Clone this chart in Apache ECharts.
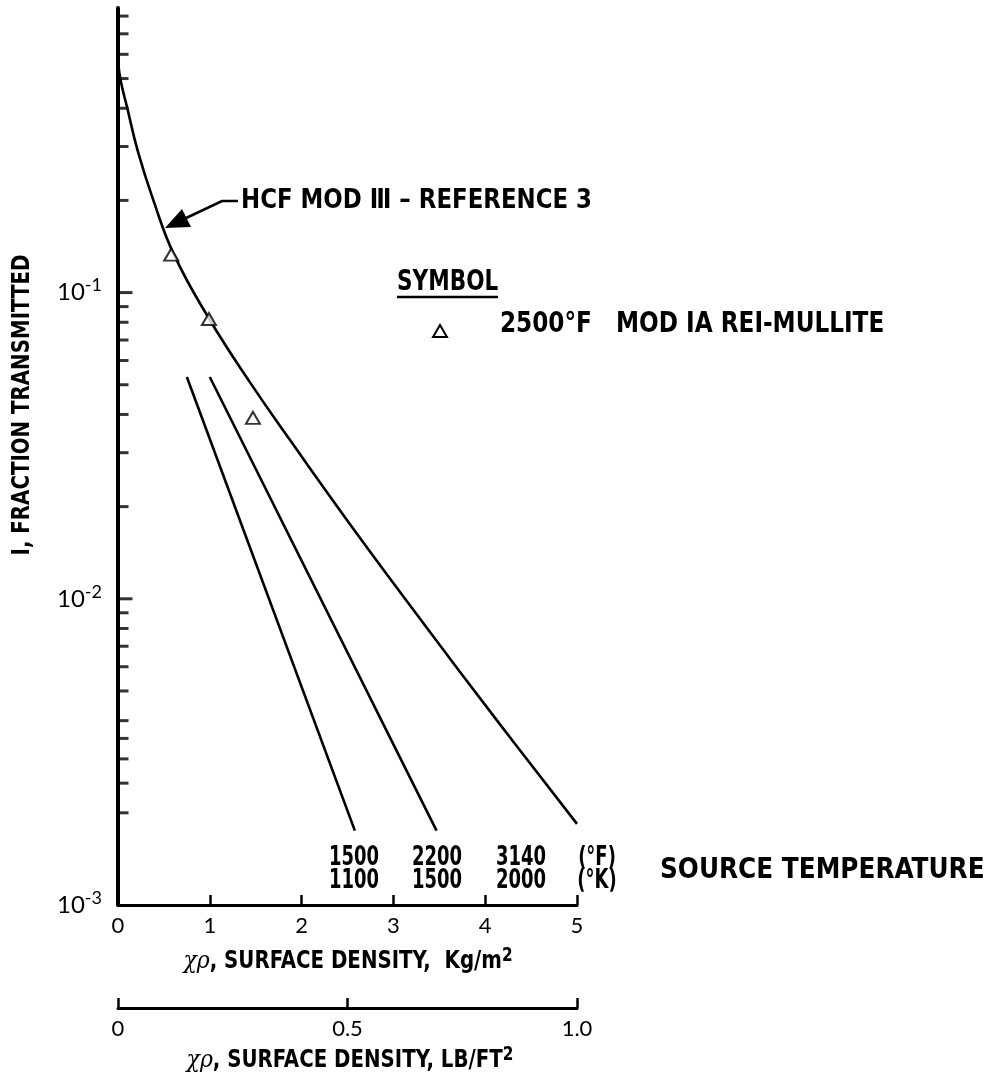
<!DOCTYPE html>
<html><head><meta charset="utf-8">
<script src="https://cdn.jsdelivr.net/npm/echarts@6/dist/echarts.min.js"></script>
<style>html,body{margin:0;padding:0;background:#fff}#c{width:996px;height:1084px}</style>
</head><body><div id="c"></div>
<script>
// ---- data ----
var hcfX = [0, 0.033, 0.098, 0.218, 0.381, 0.61, 0.991, 1.438, 1.874, 2.527, 3.29, 4.161, 5.0];
var hcfY = [0.565, 0.486, 0.404, 0.288, 0.202, 0.133, 0.0823, 0.0509, 0.0330, 0.01753, 0.00861, 0.00389, 0.00184];
var line1500X = [0.75, 2.58];
var line1500Y = [0.053, 0.00175];
var line2200X = [1.0, 3.47];
var line2200Y = [0.053, 0.00175];
var triX = [0.58, 0.99, 1.47];
var triY = [0.133, 0.082, 0.039];
var yMajorTicks = [0.1, 0.01];
var yMinorTicks = [0.8,0.7,0.6,0.5,0.4,0.3,0.2,0.09,0.08,0.07,0.06,0.05,0.04,0.03,0.02,
                   0.009,0.008,0.007,0.006,0.005,0.004,0.0035,0.003,0.0025,0.002];
var tempF = ['1500','2200','3140','(°F)'];
var tempK = ['1100','1500','2000','(°K)'];

function pairs(xs, ys){ return xs.map(function(x,i){return [x, ys[i]];}); }

var NARROW = '"DejaVu Sans Condensed","Liberation Sans Narrow","Liberation Sans",sans-serif';
var GEO = 'Lato,"Noto Sans",sans-serif';

var chart = echarts.init(document.getElementById('c'), null, {renderer:'canvas'});

var G = {left:118, top:8, right:419, bottom:179};

function txt(x, y, s, size, align, sy, sx){
  return {type:'text', x:x, y:y, scaleY:sy||1, scaleX:sx||1,
    style:{text:s, fill:'#000', font:'bold '+size+'px '+NARROW, textAlign:align||'left', textVerticalAlign:'middle'}};
}

var graphics = [];
// y-axis title
graphics.push({type:'text', x:22, y:405, rotation:Math.PI/2, scaleY:1.15,
  style:{text:'I, FRACTION TRANSMITTED', fill:'#000', font:'bold 22px '+NARROW, textAlign:'center', textVerticalAlign:'middle'}});
// annotation
graphics.push(txt(241, 201, 'HCF MOD Ⅲ – REFERENCE 3', 24, 'left', 1.12, 1.06));
graphics.push({type:'polyline', shape:{points:[[238,201],[222,201],[184,219]]}, style:{stroke:'#000', lineWidth:2.6, fill:null}});
graphics.push({type:'polygon', shape:{points:[[165,228],[191,227],[182,209]]}, style:{fill:'#000'}});
// legend
graphics.push(txt(397, 283, 'SYMBOL', 24, 'left', 1.15));
graphics.push({type:'line', shape:{x1:397,y1:297,x2:498,y2:297}, style:{stroke:'#000', lineWidth:2.6}});
graphics.push({type:'polygon', shape:{points:[[440,325],[433,337],[447,337]]}, style:{fill:'#fff', stroke:'#000', lineWidth:2}});
graphics.push(txt(500, 325, '2500°F   MOD IA REI-MULLITE', 25, 'left', 1.12, 1.03));
// source temperature labels
var colX = [354, 437, 521, 597];
tempF.forEach(function(s,i){ graphics.push(txt(colX[i], 858, s, 20, 'center', 1.3)); });
tempK.forEach(function(s,i){ graphics.push(txt(colX[i], 881, s, 20, 'center', 1.3)); });
graphics.push(txt(660, 870, 'SOURCE TEMPERATURE', 27, 'left', 1.08, 1.02));
// x axis titles
var titleRich = {g:{font:'italic 22px "DejaVu Serif",serif', fill:'#000'}, t:{font:'bold 22px '+NARROW, fill:'#000'}, s:{font:'bold 17px '+NARROW, fill:'#000', verticalAlign:'top', padding:[0,0,10,0]}};
graphics.push({type:'text', x:348, y:962, scaleY:1.1, style:{rich:titleRich, text:'{g|χρ}{t|, SURFACE DENSITY,  Kg/m}{s|2}', textAlign:'center', textVerticalAlign:'middle'}});
graphics.push({type:'text', x:350, y:1061, scaleY:1.1, style:{rich:titleRich, text:'{g|χρ}{t|, SURFACE DENSITY, LB/FT}{s|2}', textAlign:'center', textVerticalAlign:'middle'}});

var option = {
  animation:false,
  backgroundColor:'#fff',
  grid:G,
  xAxis:[{
    type:'value', min:0, max:5, interval:1, position:'bottom',
    axisLine:{show:true, onZero:false, lineStyle:{color:'#000', width:3}},
    axisTick:{show:true, inside:true, length:10, lineStyle:{color:'#000', width:2.5}},
    axisLabel:{color:'#000', fontSize:22, fontFamily:GEO, margin:10},
    splitLine:{show:false}
  },{
    type:'value', min:0, max:1, interval:0.5, position:'bottom', offset:103,
    axisLine:{show:true, onZero:false, lineStyle:{color:'#000', width:3}},
    axisTick:{show:true, inside:true, length:10, lineStyle:{color:'#000', width:2.5}},
    axisLabel:{color:'#000', fontSize:22, fontFamily:GEO, margin:10,
      formatter:function(v){ return v===0?'0':v.toFixed(1); }},
    splitLine:{show:false}
  }],
  yAxis:{
    type:'log', logBase:10, min:0.001, max:0.85,
    axisLine:{show:true, onZero:false, lineStyle:{color:'#000', width:4}},
    axisTick:{show:false},
    splitLine:{show:false},
    axisLabel:{margin:16, formatter:function(v){
        var l = Math.log10(v);
        if (Math.abs(l-Math.round(l))>1e-6 || l>-0.5) return '';
        return '{b|10}{s|'+Math.round(l)+'}';
      },
      rich:{b:{fontSize:24, fontFamily:GEO, color:'#000'}, s:{fontSize:18, fontFamily:GEO, color:'#000', verticalAlign:'top', padding:[0,0,14,0]}}
    }
  },
  series:[
    {type:'line', smooth:0.45, showSymbol:false, data:pairs(hcfX,hcfY), lineStyle:{color:'#000', width:2.6}, z:3},
    {type:'line', showSymbol:false, data:pairs(line1500X,line1500Y), lineStyle:{color:'#000', width:2.6}},
    {type:'line', showSymbol:false, data:pairs(line2200X,line2200Y), lineStyle:{color:'#000', width:2.6}},
    {type:'scatter', symbol:'triangle', symbolSize:[14,12], data:pairs(triX,triY),
      itemStyle:{color:'#fff', borderColor:'#000', borderWidth:2}, z:4},
    {type:'scatter', symbol:'rect', symbolSize:[11,3], symbolOffset:[5,0], clip:false,
      data:yMinorTicks.map(function(v){return [0,v];}), itemStyle:{color:'#000'}, silent:true},
    {type:'scatter', symbol:'rect', symbolSize:[15,3], symbolOffset:[7,0], clip:false,
      data:yMajorTicks.map(function(v){return [0,v];}), itemStyle:{color:'#000'}, silent:true}
  ],
  graphic:graphics
};
chart.setOption(option);
</script></body></html>
